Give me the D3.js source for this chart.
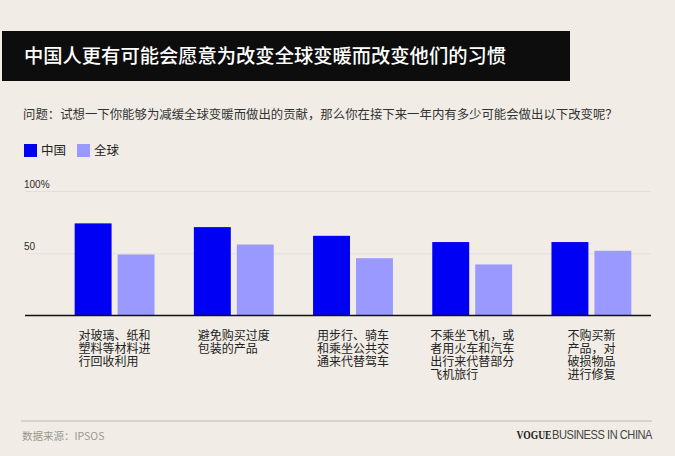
<!DOCTYPE html>
<html>
<head>
<meta charset="utf-8">
<script src="https://cdn.jsdelivr.net/npm/d3@7"></script>
<style>
  html, body { margin: 0; padding: 0; background: #f1ede6; }
  svg { display: block; font-family: "Noto Sans CJK SC", "Noto Sans", sans-serif; }
</style>
</head>
<body>
<svg id="chart" width="675" height="456"></svg>
<script>
// categories (x axis), wrapped the way the original graphic breaks them
const categories = ["recycle", "packaging", "transport", "flights", "repair"];
const categoryLines = [
    ["对玻璃、纸和", "塑料等材料进", "行回收利用"],
    ["避免购买过度", "包装的产品"],
    ["用步行、骑车", "和乘坐公共交", "通来代替驾车"],
    ["不乘坐飞机，或", "者用火车和汽车", "出行来代替部分", "飞机旅行"],
    ["不购买新", "产品，对", "破损物品", "进行修复"]
];
const seriesNames = ["中国", "全球"];
const chinaValues = [74, 71, 64, 59, 59];
const globalValues = [49, 57, 46, 41, 52];
const yTicks = [50, 100];
const yTickLabels = ["50", "100%"];

const colors = {"中国": "#0000f5", "全球": "#9999ff"};

const svg = d3.select("#chart");
const W = 675, H = 456;

svg.append("rect").attr("width", W).attr("height", H).attr("fill", "#f1ede6");

//TITLE BAR//////////////////////////////////////////////////////
svg.append("rect")
    .attr("x", 2).attr("y", 31)
    .attr("width", 568).attr("height", 50)
    .attr("fill", "#0d0d0d");
svg.append("text")
    .attr("x", 24).attr("y", 63)
    .attr("fill", "#ffffff")
    .style("font-size", "19.3px")
    .style("font-weight", 500)
    .text("中国人更有可能会愿意为改变全球变暖而改变他们的习惯");

svg.append("text")
    .attr("x", 23).attr("y", 119)
    .attr("fill", "#333")
    .style("font-size", "12.4px")
    .text("问题：试想一下你能够为减缓全球变暖而做出的贡献，那么你在接下来一年内有多少可能会做出以下改变呢？");

//LEGEND//////////////////////////////////////////////////////
const legend = svg.append("g").attr("transform", "translate(24,144)");
const legendX = [0, 53];
seriesNames.forEach((name, i) => {
    legend.append("rect")
        .attr("x", legendX[i]).attr("y", 0)
        .attr("width", 13).attr("height", 13)
        .attr("fill", colors[name]);
    legend.append("text")
        .attr("x", legendX[i] + 17).attr("y", 11)
        .attr("fill", "#222")
        .style("font-size", "12.5px")
        .text(name);
});

//SCALES//////////////////////////////////////////////////////
const x = d3.scaleBand()
    .domain(categories)
    .range([55, 651])
    .paddingInner(0.33)
    .paddingOuter(0.165);

const xInner = d3.scaleBand()
    .domain(seriesNames)
    .range([0, x.bandwidth()])
    .paddingInner(0.14)
    .paddingOuter(0);

const y = d3.scaleLinear()
    .domain([0, 100])
    .range([315.5, 191]);

// gridlines + tick labels
const axis = d3.axisLeft(y)
    .tickValues(yTicks)
    .tickSize(-626)
    .tickFormat((d, i) => yTickLabels[i]);

const gAxis = svg.append("g")
    .attr("transform", "translate(25,0)")
    .call(axis);
gAxis.select(".domain").remove();
gAxis.selectAll(".tick line").attr("stroke", "#e4e0d8").attr("stroke-width", 1);
gAxis.selectAll(".tick text")
    .attr("x", -1)
    .attr("dy", "-4px")
    .attr("text-anchor", "start")
    .attr("fill", "#2a2a2a")
    .style("font-family", "'Liberation Sans', Arial, sans-serif")
    .style("font-size", "10px")
    .style("font-weight", 500);

//BARS//////////////////////////////////////////////////////
const rows = categories.map((c, i) => ({
    category: c,
    values: [
        {series: "中国", value: chinaValues[i]},
        {series: "全球", value: globalValues[i]}
    ]
}));

const groups = svg.append("g")
    .selectAll("g")
    .data(rows)
    .enter()
    .append("g")
    .attr("transform", d => "translate(" + x(d.category) + ",0)");

groups.selectAll("rect")
    .data(d => d.values)
    .enter()
    .append("rect")
    .attr("x", d => xInner(d.series))
    .attr("y", d => y(d.value))
    .attr("width", xInner.bandwidth())
    .attr("height", d => y(0) - y(d.value))
    .attr("fill", d => colors[d.series]);

// baseline
svg.append("line")
    .attr("x1", 25).attr("x2", 651)
    .attr("y1", y(0)).attr("y2", y(0))
    .attr("stroke", "#111").attr("stroke-width", 1.6);

//CATEGORY LABELS//////////////////////////////////////////////////////
const charW = 12;
categories.forEach((c, i) => {
    let lines = categoryLines[i];
    let maxW = d3.max(lines, l => l.length) * charW;
    let left = x(c) + x.bandwidth() / 2 - maxW / 2;
    let t = svg.append("text")
        .attr("fill", "#222")
        .style("font-size", "12px");
    lines.forEach((l, j) => {
        t.append("tspan")
            .attr("x", left)
            .attr("y", 339.5 + j * 13)
            .text(l);
    });
});

//FOOTER//////////////////////////////////////////////////////
svg.append("line")
    .attr("x1", 21).attr("x2", 652)
    .attr("y1", 421).attr("y2", 421)
    .attr("stroke", "#bdb9b1").attr("stroke-width", 1);

svg.append("text")
    .attr("x", 22).attr("y", 440)
    .attr("fill", "#9a9791")
    .style("font-size", "10.5px")
    .text("数据来源：IPSOS");

svg.append("text")
    .attr("x", 516.5).attr("y", 439)
    .attr("fill", "#222")
    .attr("textLength", 35)
    .attr("lengthAdjust", "spacingAndGlyphs")
    .style("font-family", "'Liberation Serif', 'DejaVu Serif', serif")
    .style("font-weight", "bold")
    .style("font-size", "12.5px")
    .text("VOGUE");
svg.append("text")
    .attr("x", 552).attr("y", 439)
    .attr("fill", "#444")
    .attr("textLength", 100)
    .attr("lengthAdjust", "spacingAndGlyphs")
    .style("font-family", "'Liberation Sans Narrow', 'Liberation Sans', sans-serif")
    .style("font-size", "12.5px")
    .style("letter-spacing", "-0.5px")
    .text("BUSINESS IN CHINA");
</script>
</body>
</html>
